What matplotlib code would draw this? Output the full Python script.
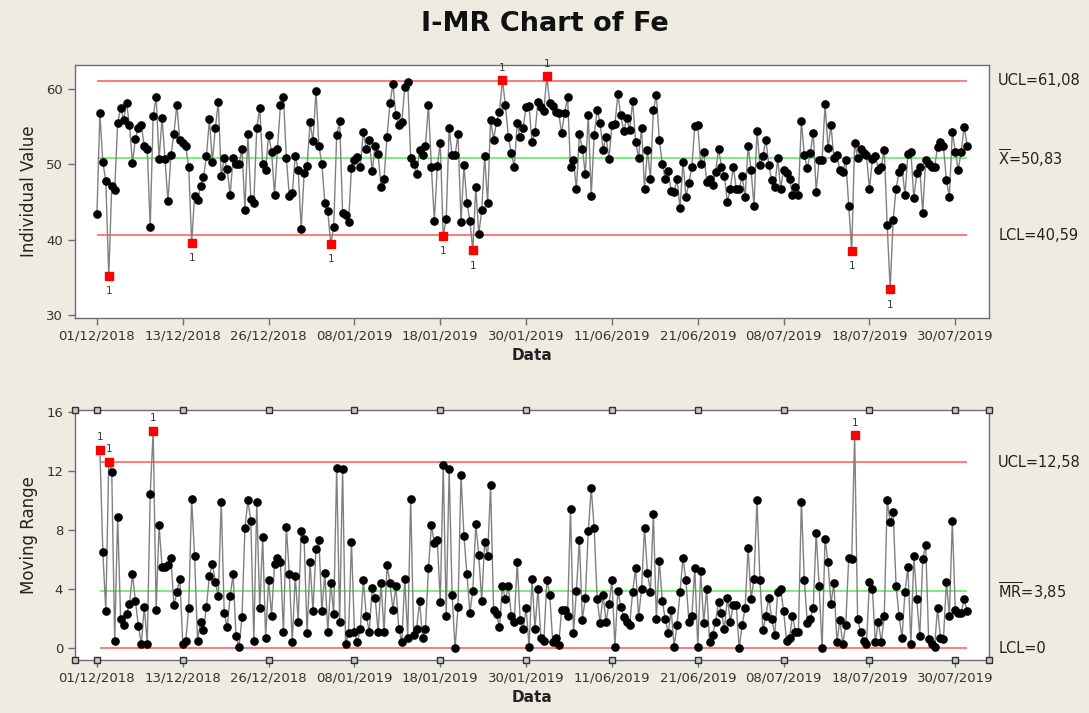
import numpy as np
import matplotlib
matplotlib.use('Agg')
import matplotlib.pyplot as plt

fe = [
    43.4, 56.8, 50.3, 47.8, 35.2, 47.1, 46.6, 55.5, 57.5, 55.9, 58.2, 55.2, 50.2, 53.4, 54.9, 55.2,
    52.4, 52.1, 41.7, 56.4, 59.0, 50.7, 56.2, 50.7, 45.1, 51.2, 54.1, 57.9, 53.2, 52.9, 52.4, 49.7,
    39.6, 45.8, 45.3, 47.1, 48.3, 51.1, 56.0, 50.3, 54.8, 58.3, 48.4, 50.8, 49.4, 45.9, 50.9, 50.1,
    50.0, 52.1, 44.0, 54.0, 45.4, 44.9, 54.8, 57.5, 50.0, 49.3, 53.9, 51.7, 46.0, 52.1, 57.9, 59.0,
    50.8, 45.8, 46.2, 51.1, 49.3, 41.4, 48.8, 49.8, 55.6, 53.1, 59.8, 52.5, 50.0, 44.9, 43.8, 39.4,
    41.7, 53.9, 55.7, 43.6, 43.3, 42.3, 49.5, 50.6, 51.0, 49.7, 54.3, 52.1, 53.2, 49.1, 52.5, 51.4,
    47.0, 48.1, 53.7,
    58.1, 60.7, 56.5, 55.2, 55.6, 60.3, 61.0, 50.9, 50.0, 48.7, 51.9, 51.2, 52.5, 57.9, 49.6, 42.5,
    49.8, 52.9, 40.5, 42.7, 54.8, 51.2, 51.2, 54.0, 42.3, 49.9, 44.9, 42.5, 38.6, 47.0, 40.7, 43.9,
    51.1, 44.9, 55.9, 53.3, 55.6, 57.0, 61.2, 57.9, 53.7, 51.5, 49.7, 55.5, 53.6, 54.9, 57.6, 57.7,
    53.0, 54.3,
    58.3, 57.6, 57.1, 61.7, 58.1, 57.7, 57.0, 56.8, 54.2, 56.8, 59.0, 49.6, 50.6, 46.7, 54.0, 52.1,
    48.7, 56.6, 45.8, 53.9, 57.2, 55.5, 51.9, 53.7, 50.7, 55.3, 55.4, 59.3, 56.5, 54.4, 56.2, 54.6,
    58.4, 53.0, 50.9, 54.9, 46.8, 51.9, 48.1, 57.2, 59.2, 53.3, 50.1, 48.1, 49.1, 46.5, 46.4, 48.0,
    44.2,
    50.3, 45.7, 47.5, 49.7, 55.1, 55.2, 50.0, 51.7, 47.7, 48.1, 47.2, 49.0, 52.1, 49.7, 48.4, 45.0,
    46.8, 49.7, 46.8, 46.8, 48.4, 45.7, 52.5, 49.2, 44.5, 54.5, 49.9, 51.1, 53.3, 49.9, 47.9, 47.0,
    50.8, 46.8, 49.3, 48.8, 48.1, 45.9, 47.0, 45.9, 55.8, 51.2, 49.5, 51.5, 54.2, 46.4, 50.6, 50.6,
    58.0, 52.2,
    55.2, 50.8, 51.2, 49.3, 49.0, 50.6, 44.5, 38.5, 52.9, 50.9, 52.0, 51.5, 51.2, 46.7, 50.7, 51.1,
    49.3, 49.7, 51.9, 41.9, 33.4, 42.6, 46.8, 49.0, 49.7, 45.9, 51.4, 51.7, 45.5, 48.8, 49.6, 43.6,
    50.6, 50.0, 49.7, 49.6, 52.3, 53.0, 52.4, 47.9, 45.7, 54.3, 51.7, 49.3, 51.7, 55.0, 52.5,
]

date_labels = ['01/12/2018', '13/12/2018', '26/12/2018', '08/01/2019', '18/01/2019', '30/01/2019',
               '11/06/2019', '21/06/2019', '08/07/2019', '18/07/2019', '30/07/2019']
tick_step = 29

# control limits printed on the chart
i_ucl, i_mean, i_lcl = 61.08, 50.83, 40.59
mr_ucl, mr_mean, mr_lcl = 12.58, 3.85, 0.0
i_labels = ['UCL=61,08', r'$\overline{\mathrm{X}}$=50,83', 'LCL=40,59']
mr_labels = ['UCL=12,58', r'$\overline{\mathrm{MR}}$=3,85', 'LCL=0']

fe = np.array(fe)
obs = np.arange(1, len(fe) + 1)
mr = np.abs(np.diff(fe))
mr_obs = obs[1:]

bg = '#EEEBE1'
line_grey = '#808080'
red_line = '#FF7070'
green_line = '#70EE70'
frame = '#6e6e6e'

plt.rcParams['font.family'] = ['DejaVu Sans']
plt.rcParams['mathtext.fontset'] = 'dejavusans'

fig = plt.figure(figsize=(10.89, 7.13), dpi=100, facecolor=bg)
ax1 = fig.add_axes([0.0689, 0.554, 0.8393, 0.3548])
ax2 = fig.add_axes([0.0689, 0.0743, 0.8393, 0.3506])

tick_pos = [1 + tick_step * k for k in range(len(date_labels))]
xlo, xhi = -6.4, 302.4


def style_axis(ax):
    ax.set_facecolor('white')
    for s in ax.spines.values():
        s.set_color(frame)
        s.set_linewidth(1)
    ax.tick_params(direction='out', length=5, width=1, color=frame, labelsize=9.5,
                   labelcolor='#333333')
    ax.set_xticks(tick_pos)
    ax.set_xticklabels(date_labels)
    ax.set_xlim(xlo, xhi)
    ax.set_xlabel('Data', fontsize=11, fontweight='bold', color='#222222', labelpad=4)


def draw_chart(ax, x, y, ucl, cl, lcl, labels):
    ax.hlines([ucl, lcl], x[0], x[-1], color=red_line, lw=1.3, zorder=1)
    ax.hlines(cl, x[0], x[-1], color=green_line, lw=1.3, zorder=1)
    ax.plot(x, y, color=line_grey, lw=1, zorder=2)
    out = (y > ucl) | (y < lcl)
    ax.plot(x[~out], y[~out], 'o', color='black', ms=5.2, zorder=3)
    ax.plot(x[out], y[out], 's', color='#FF0000', ms=5.5, zorder=4)
    for xi, yi in zip(x[out], y[out]):
        dy = -11 if yi < lcl else 9
        ax.annotate('1', (xi, yi), xytext=(0, dy), textcoords='offset points',
                    ha='center', va='center', fontsize=7.5, color='#3a3a3a')
    tr = ax.get_yaxis_transform()
    for val, lab in zip([ucl, cl, lcl], labels):
        ax.text(1.01, val, lab, transform=tr, ha='left', va='center', fontsize=10.5,
                color='#222222')


# individuals chart
style_axis(ax1)
draw_chart(ax1, obs, fe, i_ucl, i_mean, i_lcl, i_labels)
ax1.set_ylim(29.6, 63.2)
ax1.set_yticks([30, 40, 50, 60])
ax1.set_ylabel('Individual Value', fontsize=12, color='#222222', labelpad=6)

# moving range chart
style_axis(ax2)
draw_chart(ax2, mr_obs, mr, mr_ucl, mr_mean, mr_lcl, mr_labels)
ax2.set_ylim(-0.8, 16.1)
ax2.set_yticks([0, 4, 8, 12, 16])
ax2.set_ylabel('Moving Range', fontsize=12, color='#222222', labelpad=6)

# small square tick handles on the MR frame
handle_x = [xlo] + tick_pos + [xhi]
for yy in (0, 1):
    ax2.plot(handle_x, [yy] * len(handle_x), 's', ms=4.5, mfc='#c8c8c8', mec='#303030',
             mew=1, transform=ax2.get_xaxis_transform(), clip_on=False, zorder=5)

fig.suptitle('I-MR Chart of Fe', x=0.5, y=0.985, fontsize=19.5, fontweight='bold',
             color='#111111')

fig.savefig('out.png', dpi=100, facecolor=bg)
